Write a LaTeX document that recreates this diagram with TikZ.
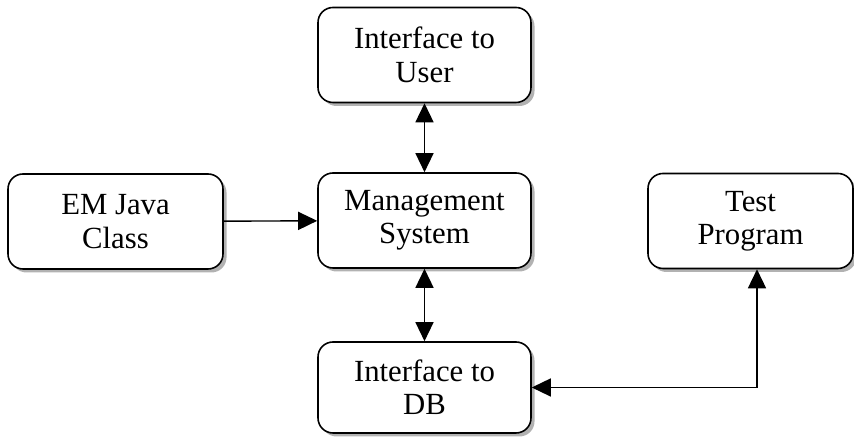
\documentclass[tikz,border=0pt]{standalone}
\usepackage{fontspec}
\setmainfont{Liberation Serif}
\usetikzlibrary{arrows.meta, positioning, shadows}

\begin{document}
\begin{tikzpicture}[
      block/.style={draw, rectangle, rounded corners=0.3cm, line width=0.9pt,
                    minimum width=4.26cm, minimum height=1.9cm, align=center,
                    font=\fontsize{17.5}{19}\selectfont, fill=white,
                    drop shadow={shadow xshift=0.07cm, shadow yshift=-0.07cm,
                                 fill=gray!60, opacity=1}},
      arr/.style={-{Triangle[length=0.38cm, width=0.36cm]}, line width=0.8pt},
      biarr/.style={{Triangle[length=0.38cm, width=0.36cm]}-{Triangle[length=0.38cm, width=0.36cm]}, line width=0.8pt}
    ]
    \useasboundingbox (0,0) rectangle (17.08,8.76);
    \node[block] (user) at (8.49, 7.66) {Interface to\\User};
    \node[block] (mgmt) at (8.49, 4.35) {Management\\System};
    \node[block, minimum height=1.82cm] (db) at (8.49, 1.01) {Interface to\\DB};
    \node[block, minimum width=4.3cm] (em) at (2.31, 4.33) {EM Java\\Class};
    \node[block, minimum width=4.1cm] (test) at (15.01, 4.34) {Test\\Program};

    \draw[biarr] (user) -- (mgmt);
    \draw[biarr] (mgmt) -- (db);
    \draw[arr] (em) -- (mgmt);
    \draw[biarr] ([xshift=0.13cm]test.south) |- (db.east);
  \end{tikzpicture}
\end{document}
